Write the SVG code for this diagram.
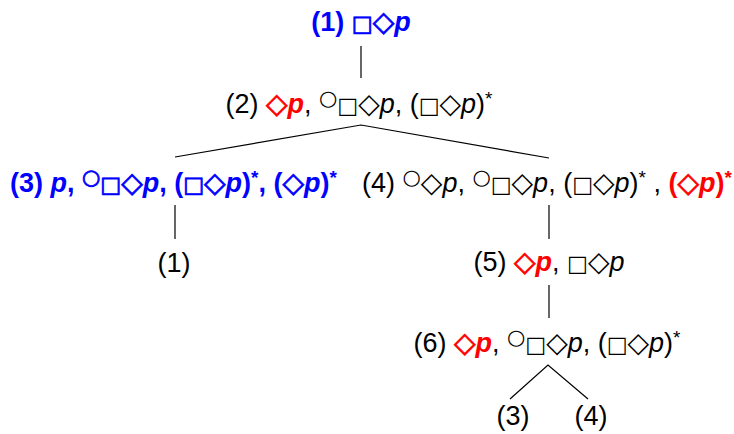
<svg xmlns="http://www.w3.org/2000/svg" width="734" height="434" viewBox="0 0 734 434">
<style>
.t{font-family:"Liberation Sans",Arial,sans-serif;font-size:27px;fill:#000}
.s{font-family:"DejaVu Sans",sans-serif;font-size:22px}
.d{font-family:"DejaVu Sans",sans-serif;font-size:28px}
.c{font-family:"DejaVu Sans",sans-serif;font-size:21px;baseline-shift:8px}
.sup{font-size:19px;baseline-shift:8px}
.i{font-style:italic}
.b{font-weight:bold}
.blue{fill:#0000ff}
.red{fill:#ff0000}
.sb{stroke-width:0.8px}
.blue .sb{stroke:#0000ff}
.red.sb{stroke:#ff0000}
.edge{stroke:#000;stroke-width:1.2;fill:none}
</style>
<rect width="734" height="434" fill="#fff"/>
<g id="connectors">
<line class="edge" x1="361" y1="46" x2="361" y2="78"/>
<polyline class="edge" points="175,157 361,125 549,158"/>
<line class="edge" x1="175" y1="205" x2="175" y2="239"/>
<line class="edge" x1="549" y1="205" x2="549" y2="239"/>
<line class="edge" x1="549" y1="285" x2="549" y2="318"/>
<polyline class="edge" points="510,399 548,365 588,399"/>
</g>
<g id="n1"><text class="t b blue" x="361" y="31" text-anchor="middle">(1) <tspan class="s sb">□</tspan><tspan class="d sb">◇</tspan><tspan class="i">p</tspan></text></g>
<g id="n2"><text class="t" x="359" y="113" text-anchor="middle">(2) <tspan class="d b red sb">◇</tspan><tspan class="i b red">p</tspan>, <tspan class="c">○</tspan><tspan class="s">□</tspan><tspan class="d">◇</tspan><tspan class="i">p</tspan>, (<tspan class="s">□</tspan><tspan class="d">◇</tspan><tspan class="i">p</tspan>)<tspan class="sup">*</tspan></text></g>
<g id="n3"><text class="t b blue" x="10" y="192">(3) <tspan class="i">p</tspan>, <tspan class="c sb">○</tspan><tspan class="s sb">□</tspan><tspan class="d sb">◇</tspan><tspan class="i">p</tspan>, (<tspan class="s sb">□</tspan><tspan class="d sb">◇</tspan><tspan class="i">p</tspan>)<tspan class="sup">*</tspan>, (<tspan class="d sb">◇</tspan><tspan class="i">p</tspan>)<tspan class="sup">*</tspan></text></g>
<g id="n4"><text class="t" x="362" y="192">(4) <tspan class="c">○</tspan><tspan class="d">◇</tspan><tspan class="i">p</tspan>, <tspan class="c">○</tspan><tspan class="s">□</tspan><tspan class="d">◇</tspan><tspan class="i">p</tspan>, (<tspan class="s">□</tspan><tspan class="d">◇</tspan><tspan class="i">p</tspan>)<tspan class="sup">*</tspan> , <tspan class="b red">(<tspan class="d sb red">◇</tspan><tspan class="i">p</tspan>)<tspan class="sup">*</tspan></tspan></text></g>
<g id="n1b"><text class="t" x="174" y="272" text-anchor="middle">(1)</text></g>
<g id="n5"><text class="t" x="549" y="271" text-anchor="middle">(5) <tspan class="d b red sb">◇</tspan><tspan class="i b red">p</tspan>, <tspan class="s">□</tspan><tspan class="d">◇</tspan><tspan class="i">p</tspan></text></g>
<g id="n6"><text class="t" x="547" y="352" text-anchor="middle">(6) <tspan class="d b red sb">◇</tspan><tspan class="i b red">p</tspan>, <tspan class="c">○</tspan><tspan class="s">□</tspan><tspan class="d">◇</tspan><tspan class="i">p</tspan>, (<tspan class="s">□</tspan><tspan class="d">◇</tspan><tspan class="i">p</tspan>)<tspan class="sup">*</tspan></text></g>
<g id="n3b"><text class="t" x="513" y="425" text-anchor="middle">(3)</text></g>
<g id="n4b"><text class="t" x="591" y="425" text-anchor="middle">(4)</text></g>
</svg>
